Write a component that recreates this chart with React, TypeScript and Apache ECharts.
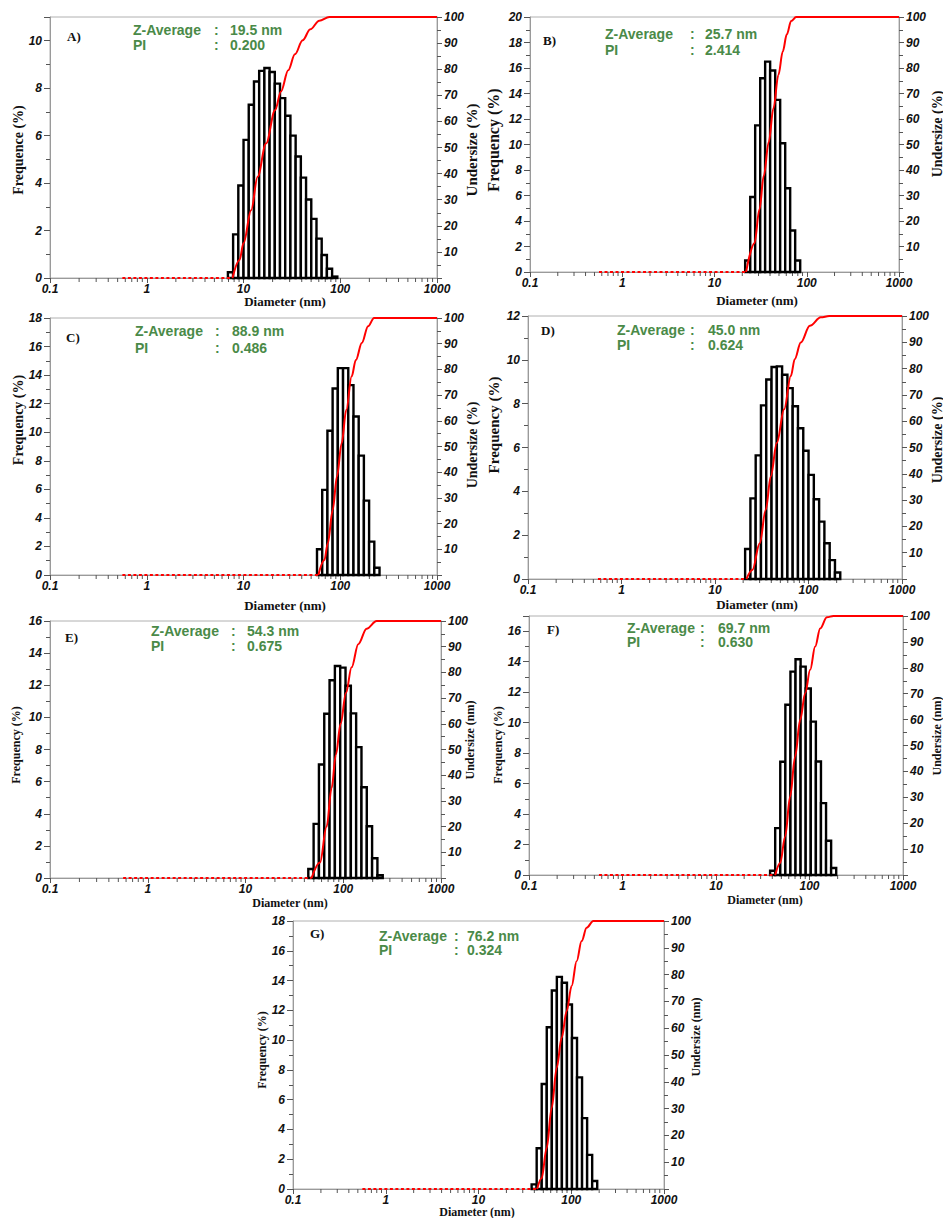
import React, { useEffect, useRef } from "react";
import * as echarts from "echarts";

// ---------- shared axis data ----------
const xMajorTicks = [0.1, 1, 10, 100, 1000];
const xMinorTicks = [0.2, 0.3, 0.4, 0.5, 0.6, 0.7, 0.8, 0.9, 2, 3, 4, 5, 6, 7, 8, 9, 20, 30, 40, 50, 60, 70, 80, 90, 200, 300, 400, 500, 600, 700, 800, 900];
const dottedStart = 0.56;

// ---------- panel A ----------
const aEdges = [6.9, 7.81, 8.84, 10.01, 11.33, 12.83, 14.52, 16.44, 18.61, 21.06, 23.84, 26.99, 30.55, 34.59, 39.15, 44.32, 50.17, 56.8, 64.29, 72.78, 82.39, 93.27];
const aFreq = [0.24, 1.84, 3.9, 5.82, 7.3, 8.28, 8.73, 8.85, 8.68, 8.19, 7.58, 6.84, 6.0, 5.12, 4.23, 3.31, 2.49, 1.66, 0.97, 0.39, 0.06];
const aCurveD = [7.7, 9.1, 10.0, 12.0, 14.0, 17.1, 21.2, 24.4, 29.0, 34.0, 40.9, 49.0, 60.7, 77.1, 1000];
const aCurveP = [0, 6.9, 13.3, 26, 38.8, 51.5, 64.3, 71.5, 79.6, 85.7, 91.1, 95.3, 98.6, 100, 100];

// ---------- panel B ----------
const bEdges = [21.5, 24.4, 27.6, 31.3, 35.4, 40.1, 45.5, 51.5, 58.4, 66.1, 74.9, 84.9];
const bFreq = [0.9, 5.88, 11.5, 15.2, 16.5, 15.8, 13.5, 10.1, 6.57, 3.25, 0.9];
const bCurveD = [22.0, 27.1, 30.7, 34.2, 38.7, 43.5, 49.3, 55.0, 60.7, 67.7, 76.7, 1000];
const bCurveP = [0, 11.3, 24.5, 37.7, 50.9, 64.1, 77.3, 86.5, 93.1, 98.4, 100, 100];

// ---------- panel C ----------
const cEdges = [57.5, 65.1, 73.7, 83.4, 94.4, 106.9, 121.0, 137.0, 155.1, 175.5, 198.7, 224.9, 254.6];
const cFreq = [1.8, 5.96, 10.1, 13.06, 14.49, 14.49, 13.3, 11.1, 8.36, 5.21, 2.34, 0.51];
const cCurveD = [59.4, 68.6, 74.3, 83.6, 92.5, 103.3, 115.4, 131.0, 145.0, 167.1, 194.0, 223.5, 1000];
const cCurveP = [0, 5.8, 12.3, 25.3, 38.3, 51.2, 64.2, 77.2, 83.7, 90.3, 96.8, 100, 100];

// ---------- panel D ----------
const dEdges = [21.0, 23.92, 27.24, 31.03, 35.34, 40.25, 45.85, 52.22, 59.48, 67.75, 77.16, 87.89, 100.1, 114.0, 129.9, 147.9, 168.5, 191.9, 218.6];
const dFreq = [1.37, 3.68, 5.64, 7.92, 9.1, 9.67, 9.7, 9.32, 8.71, 7.88, 6.88, 5.85, 4.75, 3.64, 2.62, 1.63, 0.86, 0.3];
const dCurveD = [21.7, 25.1, 30.1, 34.9, 39.5, 45.8, 54.9, 64.7, 71.3, 82.7, 103.3, 135.4, 166.7, 1000];
const dCurveP = [0, 3.4, 13.6, 26.3, 39.0, 51.7, 64.5, 77.2, 83.6, 89.9, 96.3, 99.5, 100, 100];

// ---------- panel E ----------
const eEdges = [43.9, 49.76, 56.4, 63.92, 72.45, 82.11, 93.07, 105.5, 119.6, 135.5, 153.6, 174.1, 197.3, 223.6, 253.5];
const eFreq = [0.56, 3.37, 7.07, 10.23, 12.31, 13.2, 13.1, 11.97, 10.25, 8.15, 5.65, 3.22, 1.23, 0.17];
const eCurveD = [47.5, 57.8, 67.6, 76.0, 84.1, 94.0, 106.6, 121.8, 142.4, 173.4, 219.6, 1000];
const eCurveP = [0, 6, 20, 35, 48, 60, 72, 82, 91, 97, 100, 100];

// ---------- panel F ----------
const fEdges = [37.9, 42.96, 48.69, 55.18, 62.54, 70.89, 80.34, 91.06, 103.2, 117.0, 132.6, 150.3, 170.3, 193.0];
const fFreq = [0.28, 3.08, 7.43, 11.17, 13.35, 14.16, 13.68, 12.24, 10.07, 7.45, 4.72, 2.25, 0.46];
const fCurveD = [43.0, 48.6, 54.9, 62.1, 70.2, 79.5, 89.9, 101.7, 115.0, 130.1, 153.4, 180.7, 1000];
const fCurveP = [0, 4.6, 14.9, 30.3, 45.8, 59.9, 70.2, 79.2, 88.2, 95.2, 99.5, 100, 100];

// ---------- panel G ----------
const gEdges = [37.4, 42.39, 48.04, 54.45, 61.72, 69.95, 79.28, 89.86, 101.8, 115.4, 130.8, 148.3, 168.1, 190.5];
const gFreq = [0.31, 2.74, 7.05, 10.86, 13.33, 14.25, 13.85, 12.39, 10.14, 7.5, 4.76, 2.29, 0.54];
const gCurveD = [42.9, 47.9, 54.3, 61.5, 69.6, 78.8, 89.2, 100.9, 114.3, 129.4, 146.5, 172.6, 1000];
const gCurveP = [0, 4, 15.2, 30.2, 45.1, 56.4, 66.3, 75.7, 85, 92.5, 97.5, 100, 100];

// ---------- texts ----------
const panelLabels = ["A)", "B)", "C)", "D)", "E)", "F)", "G)"];
const zAverages = ["19.5 nm", "25.7 nm", "88.9 nm", "45.0 nm", "54.3 nm", "69.7 nm", "76.2 nm"];
const piValues = ["0.200", "2.414", "0.486", "0.624", "0.675", "0.630", "0.324"];
const freqMax = [11, 20, 18, 12, 16, 17, 18];
const leftTitles = ["Frequence (%)", "Frequency (%)", "Frequency (%)", "Frequency (%)", "Frequency (%)", "Frequency (%)", "Frequency (%)"];
const rightTitles = ["Undersize (%)", "Undersize (%)", "Undersize (%)", "Undersize (%)", "Undersize (nm)", "Undersize (nm)", "Undersize (nm)"];
const xTitle = "Diameter (nm)";

const edgesAll = [aEdges, bEdges, cEdges, dEdges, eEdges, fEdges, gEdges];
const freqAll = [aFreq, bFreq, cFreq, dFreq, eFreq, fFreq, gFreq];
const curveDAll = [aCurveD, bCurveD, cCurveD, dCurveD, eCurveD, fCurveD, gCurveD];
const curvePAll = [aCurveP, bCurveP, cCurveP, dCurveP, eCurveP, fCurveP, gCurveP];

// ---------- layout (pixels) ----------
const grids = [
  { left: 50, top: 17, width: 387, height: 261 },
  { left: 530, top: 17, width: 369, height: 255 },
  { left: 50, top: 318, width: 387, height: 257 },
  { left: 528, top: 316, width: 374, height: 263 },
  { left: 50, top: 621, width: 391, height: 257 },
  { left: 529, top: 616, width: 374, height: 259 },
  { left: 293, top: 921, width: 371, height: 268 },
];
// [labelX, labelY, zX, colonX, valueX, zY, piY]
const textPos = [
  [67, 36, 133, 214, 230, 30, 45],
  [543, 40, 605, 690, 705, 34, 50],
  [66, 337, 135, 215, 232, 331, 348],
  [541, 330, 617, 690, 708, 330, 345],
  [65, 637, 151, 231, 247, 631, 646],
  [547, 629, 627, 700, 718, 628, 642],
  [310, 933, 379, 454, 467, 936, 950],
];
// [leftX, leftY, leftSize, rightX, rightY, rightSize, xX, xY, xSize]
const titlePos = [
  [18, 150, 14, 472, 150, 15, 285, 301, 13],
  [493, 140, 16, 937, 134, 14, 757, 300, 13],
  [18, 420, 14, 472, 445, 14, 285, 605, 13],
  [494, 425, 15, 937, 440, 14, 757, 604, 13],
  [16, 745, 12, 470, 740, 12, 290, 903, 12],
  [498, 745, 12, 937, 736, 12, 765, 900, 12],
  [262, 1050, 12, 696, 1037, 12, 477, 1212, 12],
];

const GREEN = "#4a8a48";
const SANS = "'Liberation Sans', Arial, sans-serif";
const SERIF = "'Liberation Serif', 'Times New Roman', serif";

export default function App() {
  const ref = useRef<HTMLDivElement>(null);

  useEffect(() => {
    document.body.style.margin = "0";
    if (!ref.current) return;
    const chart = echarts.init(ref.current, null, { renderer: "svg" });

    const tickLabel = {
      fontFamily: SANS,
      fontWeight: "bold",
      fontStyle: "italic",
      fontSize: 12,
      color: "#111",
    };

    const xAxis = grids.map((_, i) => ({
      type: "log",
      logBase: 10,
      gridIndex: i,
      min: 0.1,
      max: 1000,
      axisLine: { show: true, lineStyle: { color: "#9a9a9a", width: 1 } },
      axisTick: { show: true, length: 5, lineStyle: { color: "#555" } },
      axisLabel: {
        ...tickLabel,
        margin: 5,
        formatter: (v: number) => {
          const m = xMajorTicks.find((t) => Math.abs(t - v) / t < 1e-6);
          return m !== undefined ? String(m) : "";
        },
      },
      splitLine: { show: false },
    }));

    const leftY = grids.map((_, i) => ({
      type: "value",
      gridIndex: i,
      position: "left",
      min: 0,
      max: freqMax[i],
      interval: 2,
      axisLine: { show: true, lineStyle: { color: "#9a9a9a" } },
      axisTick: { show: true, length: 6, lineStyle: { color: "#555" } },
      minorTick: { show: true, splitNumber: 2, length: 4, lineStyle: { color: "#555" } },
      axisLabel: { ...tickLabel, margin: 8, showMaxLabel: freqMax[i] % 2 === 0 },
      splitLine: { show: false },
    }));

    const rightY = grids.map((_, i) => ({
      type: "value",
      gridIndex: i,
      position: "right",
      min: 0,
      max: 100,
      interval: 10,
      axisLine: { show: true, lineStyle: { color: "#9a9a9a" } },
      axisTick: { show: true, length: 5, lineStyle: { color: "#555" } },
      minorTick: { show: true, splitNumber: 2, length: 4, lineStyle: { color: "#555" } },
      axisLabel: {
        ...tickLabel,
        margin: 7,
        formatter: (v: number) => (v === 0 ? "" : String(v)),
      },
      splitLine: { show: false },
    }));

    const series: any[] = [];
    grids.forEach((_, i) => {
      const edges = edgesAll[i];
      const freq = freqAll[i];
      series.push({
        type: "custom",
        xAxisIndex: i,
        yAxisIndex: i,
        silent: true,
        encode: { x: [0, 1], y: 2 },
        data: freq.map((f, k) => [edges[k], edges[k + 1], f]),
        renderItem: (_p: any, api: any) => {
          const p0 = api.coord([api.value(0), api.value(2)]);
          const p1 = api.coord([api.value(1), 0]);
          return {
            type: "rect",
            shape: { x: p0[0], y: p0[1], width: p1[0] - p0[0], height: p1[1] - p0[1] },
            style: { fill: "#ffffff", stroke: "#000000", lineWidth: 2.4 },
          };
        },
        z: 2,
      });
      series.push({
        type: "custom",
        xAxisIndex: i,
        yAxisIndex: i,
        silent: true,
        encode: { x: 0, y: 1 },
        data: xMinorTicks.map((t) => [t, 0]),
        renderItem: (_p: any, api: any) => {
          const p = api.coord([api.value(0), 0]);
          return {
            type: "line",
            shape: { x1: p[0], y1: p[1], x2: p[0], y2: p[1] + 4 },
            style: { stroke: "#555", lineWidth: 1 },
          };
        },
        z: 1,
      });
      const cd = curveDAll[i];
      const cp = curvePAll[i];
      series.push({
        type: "line",
        xAxisIndex: i,
        yAxisIndex: 7 + i,
        silent: true,
        symbol: "none",
        data: [
          [dottedStart, 0],
          [cd[0], 0],
        ],
        lineStyle: { color: "#ff0000", width: 1.8, type: [3, 2.5] },
        z: 4,
      });
      series.push({
        type: "line",
        xAxisIndex: i,
        yAxisIndex: 7 + i,
        silent: true,
        symbol: "none",
        smooth: 0.35,
        smoothMonotone: "x",
        data: cd.map((d, k) => [d, cp[k]]),
        lineStyle: { color: "#ff0000", width: 2 },
        z: 5,
      });
    });

    const graphic: any[] = [];
    const txt = (x: number, y: number, text: string, o: any = {}) => ({
      type: "text",
      x,
      y,
      rotation: o.rotation || 0,
      silent: true,
      style: {
        text,
        fill: o.fill || "#111",
        fontFamily: o.fontFamily || SANS,
        fontWeight: "bold",
        fontSize: o.fontSize || 13,
        align: o.align || "left",
        verticalAlign: "middle",
        textAlign: o.align || "left",
        textVerticalAlign: "middle",
      },
    });
    grids.forEach((_, i) => {
      const [lx, ly, zx, cx, vx, zy, py] = textPos[i];
      graphic.push(txt(lx, ly, panelLabels[i], { fontFamily: SERIF, fontSize: 13 }));
      graphic.push(txt(zx, zy, "Z-Average", { fill: GREEN, fontSize: 14 }));
      graphic.push(txt(cx, zy, ":", { fill: GREEN, fontSize: 14 }));
      graphic.push(txt(vx, zy, zAverages[i], { fill: GREEN, fontSize: 14 }));
      graphic.push(txt(zx, py, "PI", { fill: GREEN, fontSize: 14 }));
      graphic.push(txt(cx, py, ":", { fill: GREEN, fontSize: 14 }));
      graphic.push(txt(vx, py, piValues[i], { fill: GREEN, fontSize: 14 }));
      const [lX, lY, lS, rX, rY, rS, xX, xY, xS] = titlePos[i];
      graphic.push(txt(lX, lY, leftTitles[i], { fontFamily: SERIF, fontSize: lS, align: "center", rotation: Math.PI / 2 }));
      graphic.push(txt(rX, rY, rightTitles[i], { fontFamily: SERIF, fontSize: rS, align: "center", rotation: Math.PI / 2 }));
      graphic.push(txt(xX, xY, xTitle, { fontFamily: SERIF, fontSize: xS, align: "center" }));
    });

    chart.setOption({
      animation: false,
      backgroundColor: "#ffffff",
      grid: grids.map((g) => ({
        ...g,
        show: true,
        borderColor: "#b0b0b0",
        borderWidth: 1,
        backgroundColor: "transparent",
      })),
      xAxis,
      yAxis: [...leftY, ...rightY],
      series,
      graphic,
    });

    return () => chart.dispose();
  }, []);

  return <div ref={ref} style={{ width: 943, height: 1218 }} />;
}
